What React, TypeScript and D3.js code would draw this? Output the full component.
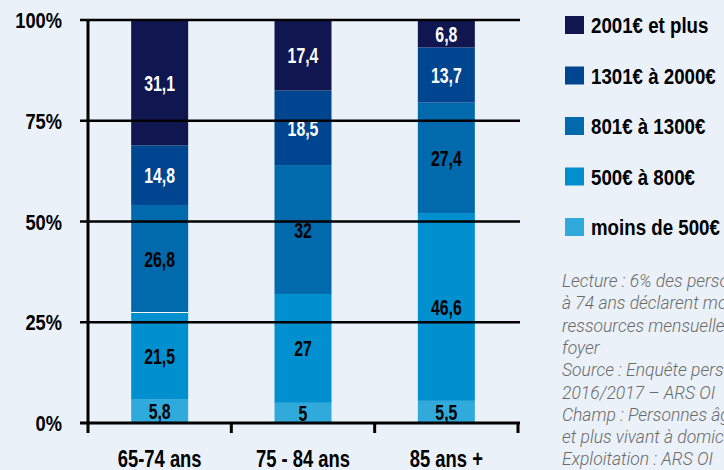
import React, { useEffect, useRef } from "react";
import * as d3 from "d3";

const ageGroups = ["65-74 ans", "75 - 84 ans", "85 ans +"];
const incomeBands = ["moins de 500€", "500€ à 800€", "801€ à 1300€", "1301€ à 2000€", "2001€ et plus"];
// one array per income band, in the order of ageGroups
const moinsDe500 = [5.8, 5, 5.5];
const de500a800 = [21.5, 27, 46.6];
const de801a1300 = [26.8, 32, 27.4];
const de1301a2000 = [14.8, 18.5, 13.7];
const plusDe2001 = [31.1, 17.4, 6.8];
const bandColors = ["#30aada", "#0090d0", "#006aac", "#00458f", "#0f1650"];
const yTicks = [0, 25, 50, 75, 100];
const notes = [
  "Lecture : 6% des personnes âgées de 65",
  "à 74 ans déclarent moins de 500€ de",
  "ressources mensuelles pour leur",
  "foyer",
  "Source : Enquête personnes âgées",
  "2016/2017 – ARS OI",
  "Champ : Personnes âgées de 65 ans",
  "et plus vivant à domicile",
  "Exploitation : ARS OI",
];

const W = 724;
const H = 470;
const sans = "'Liberation Sans', Arial, sans-serif";

export default function App() {
  const ref = useRef<SVGSVGElement>(null);

  useEffect(() => {
    const svg = d3.select(ref.current);
    svg.selectAll("*").remove();

    const series = [moinsDe500, de500a800, de801a1300, de1301a2000, plusDe2001];
    const rows = ageGroups.map((g, i) => {
      const r: any = { group: g };
      incomeBands.forEach((b, j) => (r[b] = series[j][i]));
      return r;
    });
    const stacked = d3.stack().keys(incomeBands)(rows);

    const x = d3.scaleBand().domain(ageGroups).range([88, 518]);
    const barW = 57;
    const y = d3.scaleLinear().domain([0, 100]).range([423, 20]);
    const color = d3.scaleOrdinal<string>().domain(incomeBands).range(bandColors);
    const mid = (g: string) => x(g)! + x.bandwidth() / 2;

    // condensed bold text: squeeze Liberation Sans horizontally
    const squeeze = (sel: any, sx: number) =>
      sel
        .attr("font-family", sans)
        .attr("font-weight", "bold")
        .attr("transform", function (this: any) {
          const tx = +this.getAttribute("data-x");
          const ty = +this.getAttribute("data-y");
          return `translate(${tx},${ty}) scale(${sx},1)`;
        });

    svg.append("rect").attr("width", W).attr("height", H).attr("fill", "#eaf1f9");

    // bars
    const layer = svg.selectAll(".layer").data(stacked).enter().append("g").attr("fill", (d) => color(d.key));
    layer
      .selectAll("rect")
      .data((d) => d)
      .enter()
      .append("rect")
      .attr("x", (d: any) => mid(d.data.group) - barW / 2)
      .attr("width", barW)
      .attr("y", (d) => y(d[1]))
      .attr("height", (d) => y(d[0]) - y(d[1]));

    // thin white separator seen in the first bar
    const sep = stacked[1][0];
    svg
      .append("line")
      .attr("x1", mid(ageGroups[0]) - barW / 2)
      .attr("x2", mid(ageGroups[0]) + barW / 2)
      .attr("y1", y(sep[1]) - 0.5)
      .attr("y2", y(sep[1]) - 0.5)
      .attr("stroke", "#ffffff")
      .attr("stroke-width", 1);

    // gridlines
    svg
      .append("g")
      .selectAll("line")
      .data(yTicks.filter((t) => t > 0))
      .enter()
      .append("line")
      .attr("x1", 80)
      .attr("x2", 520)
      .attr("y1", (d) => y(d))
      .attr("y2", (d) => y(d))
      .attr("stroke", "#000")
      .attr("stroke-width", 2.5);

    // axes
    svg.append("line").attr("x1", 88).attr("x2", 88).attr("y1", y(100)).attr("y2", 433).attr("stroke", "#000").attr("stroke-width", 3);
    svg.append("line").attr("x1", 80).attr("x2", 520).attr("y1", y(0)).attr("y2", y(0)).attr("stroke", "#000").attr("stroke-width", 3);
    svg
      .append("g")
      .selectAll("line")
      .data(ageGroups.map((g) => x(g)! + x.bandwidth()))
      .enter()
      .append("line")
      .attr("x1", (d) => d)
      .attr("x2", (d) => d)
      .attr("y1", y(0))
      .attr("y2", 433)
      .attr("stroke", "#000")
      .attr("stroke-width", 3);

    squeeze(
      svg
        .append("g")
        .selectAll("text")
        .data(yTicks)
        .enter()
        .append("text")
        .attr("data-x", 62)
        .attr("data-y", (d) => y(d) + 8)
        .attr("text-anchor", "end")
        .attr("font-size", 22)
        .text((d) => d + "%"),
      0.83
    );

    squeeze(
      svg
        .append("g")
        .selectAll("text")
        .data(ageGroups)
        .enter()
        .append("text")
        .attr("data-x", (d) => mid(d))
        .attr("data-y", 467)
        .attr("text-anchor", "middle")
        .attr("font-size", 23)
        .text((d) => d),
      0.8
    );

    // value labels
    squeeze(
      layer
        .selectAll("text")
        .data((d) => d.map((v) => ({ v, key: d.key })))
        .enter()
        .append("text")
        .attr("data-x", (d: any) => mid(d.v.data.group))
        .attr("data-y", (d: any) => (y(d.v[0]) + y(d.v[1])) / 2 + 8)
        .attr("text-anchor", "middle")
        .attr("font-size", 22)
        .attr("fill", (d: any) => (d.key === incomeBands[3] || d.key === incomeBands[4] ? "#fff" : "#000"))
        .text((d: any) => String(d.v.data[d.key]).replace(".", ",")),
      0.72
    );

    // legend
    const legend = svg
      .append("g")
      .selectAll("g")
      .data(incomeBands.slice().reverse())
      .enter()
      .append("g")
      .attr("transform", (d, i) => `translate(565,${16 + i * 50.5})`);
    legend.append("rect").attr("width", 19).attr("height", 18).attr("fill", (d) => color(d));
    squeeze(
      legend
        .append("text")
        .attr("data-x", 26)
        .attr("data-y", 17)
        .attr("font-size", 22)
        .text((d) => d),
      0.85
    );

    svg
      .append("g")
      .selectAll("text")
      .data(notes)
      .enter()
      .append("text")
      .attr("x", 562)
      .attr("y", (d, i) => 287 + i * 22.3)
      .attr("font-family", "Roboto, sans-serif")
      .attr("font-style", "italic")
      .attr("font-weight", 300)
      .attr("font-size", 17.5)
      .attr("fill", "#6a6a6a")
      .text((d) => d);
  }, []);

  return (
    <svg
      ref={ref}
      width={W}
      height={H}
      style={{ position: "fixed", top: 0, left: 0, display: "block" }}
    />
  );
}
